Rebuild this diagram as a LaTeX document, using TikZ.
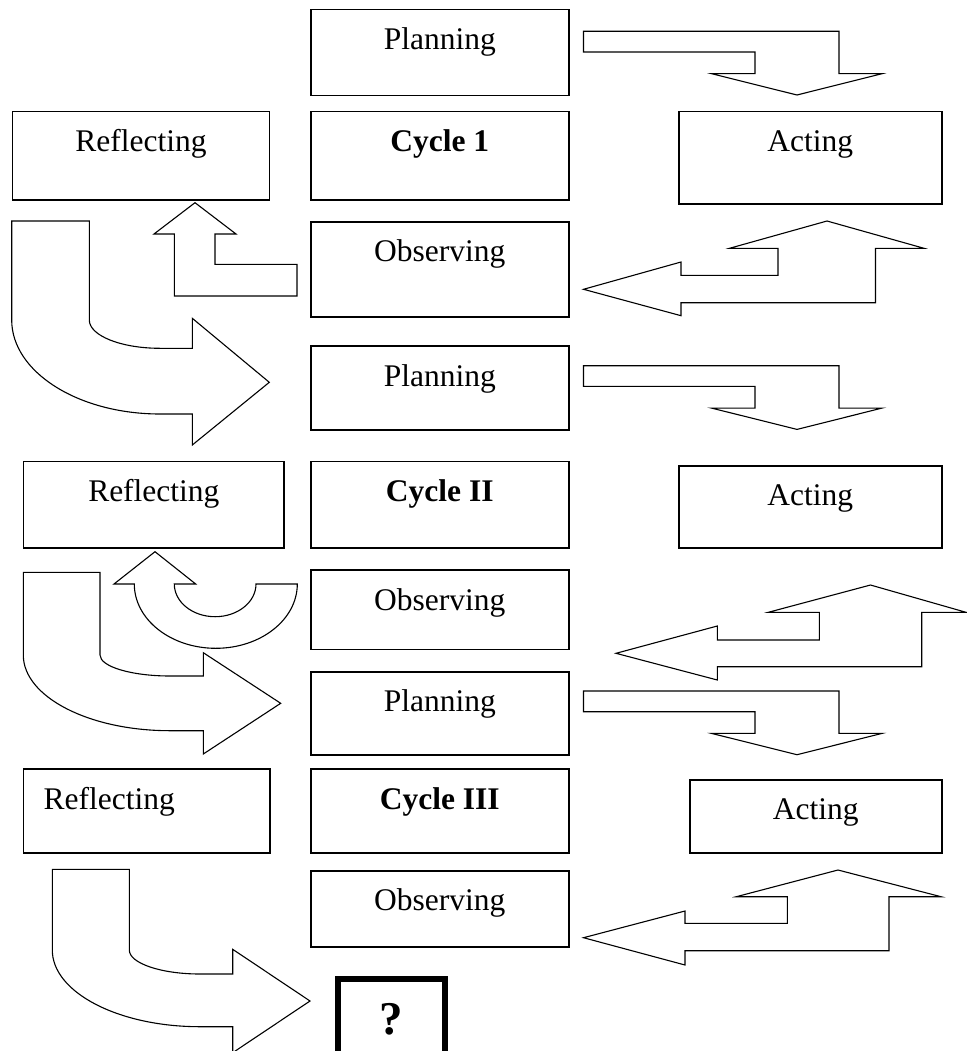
\documentclass[tikz,border=0pt]{standalone}
\usepackage{fontspec}
\setmainfont{Liberation Serif}
\usepackage{tikz}

\begin{document}
\begin{tikzpicture}[
  x=1pt, y=-1pt,
  font={\fontsize{31.5}{36}\selectfont},
  box/.style={
    draw,
    line width=1.5pt,
    anchor=north west,
    inner sep=0pt,
    text height=40pt
  },
  midbox/.style={
    box,
    minimum width=258pt
  },
  blockarrow/.style={draw, fill=white, line width=1.1pt, line join=miter}
]
\useasboundingbox (0,0) rectangle (966,1051);

% Cycle 1: the four stages round the cycle box.
\node[midbox, text depth=46pt] (plan1) at (310,9) {Planning};
\node[box, minimum width=257pt, text depth=48.3pt] (refl1) at (11.7,110.7) {Reflecting};
\node[midbox, text depth=48.3pt] (cyc1) at (310,110.7) {\bfseries Cycle 1};
\node[box, minimum width=263pt, text depth=52.6pt] (act1) at (678,110.7) {Acting};
\node[midbox, text depth=55pt] (obs1) at (310,221) {Observing};

% Cycle II
\node[midbox, text depth=44pt] (plan2) at (310,345.3) {Planning};
\node[box, minimum width=260.6pt, text depth=46.6pt] (refl2) at (22.8,460.7) {Reflecting};
\node[midbox, text depth=46.6pt] (cyc2) at (310,460.7) {\bfseries Cycle II};
\node[box, minimum width=263pt, text depth=42.3pt] (act2) at (678,465) {Acting};
\node[midbox, text depth=39.4pt] (obs2) at (310,569.3) {Observing};

% Cycle III, reflecting text sits to the left.
\node[midbox, text depth=43.3pt] (plan3) at (310,671) {Planning};
\node[box, text width=206.5pt, inner xsep=20pt, align=left, text depth=43.7pt] (refl3) at (22.8,768.3) {Reflecting};
\node[midbox, text depth=43.7pt] (cyc3) at (310,768.3) {\bfseries Cycle III};
\node[box, minimum width=252pt, text depth=33pt] (act3) at (689,779) {Acting};
\node[midbox, text depth=36pt] (obs3) at (310,870) {Observing};

% Open end, cut off by the page.
\node[box, line width=6pt, minimum width=106.7pt, text height=55.7pt, text depth=80pt,
  font={\fontsize{47}{50}\selectfont\bfseries}] (next) at (335.3,976) {?};

% Planning -> Acting, the same bent arrow in every cycle.
\draw[blockarrow] (583.5,31.3) -- (839,31.3) -- (839,73.7) -- (882,73.7) -- (797,95)
  -- (711.6,73.7) -- (755,73.7) -- (755,52) -- (583.5,52) -- cycle;
\draw[blockarrow, shift={(0,334.4)}] (583.5,31.3) -- (839,31.3) -- (839,73.7) -- (882,73.7) -- (797,95)
  -- (711.6,73.7) -- (755,73.7) -- (755,52) -- (583.5,52) -- cycle;
\draw[blockarrow, shift={(0,659.7)}] (583.5,31.3) -- (839,31.3) -- (839,73.7) -- (882,73.7) -- (797,95)
  -- (711.6,73.7) -- (755,73.7) -- (755,52) -- (583.5,52) -- cycle;

% Acting -> Observing, double headed step arrows.
\draw[blockarrow] (827,221) -- (924,248.3) -- (875.5,248.3) -- (875.5,302.7) -- (681,302.7)
  -- (681,315.7) -- (583.5,289.3) -- (681,262) -- (681,275.3) -- (778,275.3)
  -- (778,248.3) -- (729.5,248.3) -- cycle;
\draw[blockarrow] (870.5,585) -- (966,612.3) -- (921.7,612.3) -- (921.7,666.7) -- (717.3,666.7)
  -- (717.3,680) -- (616,653.3) -- (717.3,626) -- (717.3,640) -- (819.3,640)
  -- (819.3,612.3) -- (768.3,612.3) -- cycle;
\draw[blockarrow] (838,870) -- (941,896.7) -- (889,896.7) -- (889,950.7) -- (685,950.7)
  -- (685,965) -- (583.5,937.7) -- (685,911) -- (685,923.3) -- (787.4,923.3)
  -- (787.4,896.7) -- (736.3,896.7) -- cycle;

% Observing -> Reflecting
\draw[blockarrow] (297,264.3) -- (297,296) -- (174.3,296) -- (174.3,234) -- (154,234)
  -- (195,202.7) -- (236,234) -- (215,234) -- (215,264.3) -- cycle;
\draw[blockarrow] (155,551.7) -- (195.7,584) -- (174.3,584)
  arc[start angle=180, end angle=360, x radius=40.85pt, y radius=32.7pt]
  -- (297.3,584) arc[start angle=0, end angle=-180, x radius=81.5pt, y radius=64.3pt]
  -- (114,584) -- cycle;

% Reflecting -> next Planning, curved arrows.
\draw[blockarrow] (11.7,221) -- (89.3,221) -- (89.3,320)
  arc[start angle=180, end angle=270, x radius=70.7pt, y radius=28.3pt]
  -- (192.3,348.3) -- (192.3,318.3) -- (269.3,382.3) -- (192.3,445) -- (192.3,414) -- (160,414)
  arc[start angle=270, end angle=180, x radius=148.3pt, y radius=94pt] -- cycle;
\draw[blockarrow] (23.3,572.3) -- (100,572.3) -- (100,655)
  arc[start angle=180, end angle=270, x radius=70pt, y radius=21pt]
  -- (203.3,676) -- (203.3,652.7) -- (280.7,703.3) -- (203.3,754) -- (203.3,730.7) -- (170,730.7)
  arc[start angle=270, end angle=180, x radius=146.7pt, y radius=75.7pt] -- cycle;
\draw[blockarrow] (52.3,869.3) -- (129.3,869.3) -- (129.3,950)
  arc[start angle=180, end angle=270, x radius=70.7pt, y radius=24pt]
  -- (232.7,974) -- (232.7,949.3) -- (310,1001) -- (232.7,1052.7) -- (232.7,1026.7) -- (200,1026.7)
  arc[start angle=270, end angle=180, x radius=147.7pt, y radius=76.7pt] -- cycle;

\end{tikzpicture}
\end{document}
